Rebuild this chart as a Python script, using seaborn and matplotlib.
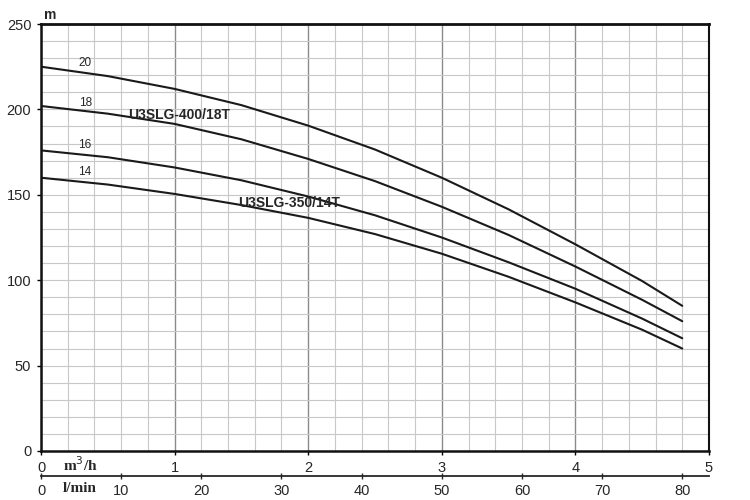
import pandas as pd
import seaborn as sns
import matplotlib.pyplot as plt
from matplotlib.ticker import FixedLocator

# Dados das curvas (vazao em l/min, altura em m)
vazao_lmin = [0, 8.33, 16.67, 25, 33.33, 41.67, 50, 58.33, 66.67, 75, 80]
altura_20 = [225, 219.5, 212, 202.5, 190.5, 176.5, 160, 141.5, 121, 99.5, 85]
altura_18 = [202, 197.5, 191.5, 182.5, 171, 158, 143, 126.5, 108, 88.5, 76]
altura_16 = [176, 172, 166, 158.5, 149, 138, 125, 110.5, 95, 77.5, 66]
altura_14 = [160, 156, 150.5, 144, 136.5, 127, 115.5, 102, 87, 71, 60]
nomes_curvas = ["20", "18", "16", "14"]

ticks_m3h = [0, 1, 2, 3, 4, 5]
ticks_lmin = [0, 10, 20, 30, 40, 50, 60, 70, 80]
ticks_y = [0, 50, 100, 150, 200, 250]

df = pd.concat([
    pd.DataFrame({"vazao": vazao_lmin, "altura": h, "curva": n})
    for h, n in zip([altura_20, altura_18, altura_16, altura_14], nomes_curvas)
])

sns.set_style("ticks")
plt.rcParams["font.family"] = ["Liberation Sans", "DejaVu Sans"]

fig = plt.figure(figsize=(7.5, 5), dpi=100)
ax = fig.add_axes([0.0547, 0.098, 0.8906, 0.854])

sns.lineplot(data=df, x="vazao", y="altura", hue="curva", palette=["#1a1a1a"] * 4,
             legend=False, ax=ax, linewidth=1.5)

# eixo principal em l/min, mas rotulado em m3/h
ax.set_xlim(0, 250 / 3)
ax.set_ylim(0, 250)
ax.set_xticks([m * 50 / 3 for m in ticks_m3h])
ax.set_xticklabels([str(m) for m in ticks_m3h])
ax.xaxis.set_minor_locator(FixedLocator([i * 10 / 3 for i in range(26)]))
ax.set_yticks(ticks_y)
ax.yaxis.set_minor_locator(FixedLocator(list(range(0, 251, 10))))
ax.tick_params(axis="both", which="major", length=3, width=1, labelsize=10.5, pad=4, color="black")
ax.tick_params(axis="both", which="minor", length=0)
ax.set_xlabel("")
ax.set_ylabel("")

ax.grid(which="minor", color="#c8c8c8", linewidth=0.8)
ax.grid(which="major", axis="x", color="#8a8a8a", linewidth=1.0)
ax.grid(which="major", axis="y", color="#c8c8c8", linewidth=0.8)
ax.set_axisbelow(True)

for lado, lw in [("top", 2.0), ("bottom", 1.8), ("left", 1.8), ("right", 1.5)]:
    ax.spines[lado].set_visible(True)
    ax.spines[lado].set_linewidth(lw)
    ax.spines[lado].set_color("#111111")

# segundo eixo em l/min
sec = ax.secondary_xaxis(-0.0585)
sec.set_xticks(ticks_lmin)
sec.set_xticklabels([str(v) for v in ticks_lmin])
sec.tick_params(length=5, width=1, direction="inout", labelsize=10.5, pad=3)
sec.spines["bottom"].set_linewidth(1.3)

# rotulos das curvas
for n, (x, y) in zip(nomes_curvas, [(5.5, 227), (5.5, 204), (5.5, 179), (5.5, 163.5)]):
    ax.text(x, y, n, fontsize=8.5, ha="center", va="center")
ax.text(17.2, 196.7, "U3SLG-400/18T", fontsize=10, fontweight="bold", ha="center", va="center")
ax.text(30.9, 145, "U3SLG-350/14T", fontsize=10, fontweight="bold", ha="center", va="center")

fig.text(50 / 750, 1 - 15 / 500, "m", fontsize=10, fontweight="bold", ha="center", va="center")
fig.text(80 / 750, 1 - 465 / 500, "m$^3$/h", fontsize=11, fontweight="bold",
         family=["Liberation Serif", "DejaVu Serif"], ha="center", va="center")
fig.text(80 / 750, 1 - 488 / 500, "l/min", fontsize=11, fontweight="bold",
         family=["Liberation Serif", "DejaVu Serif"], ha="center", va="center")

fig.savefig("out.png", dpi=100)
